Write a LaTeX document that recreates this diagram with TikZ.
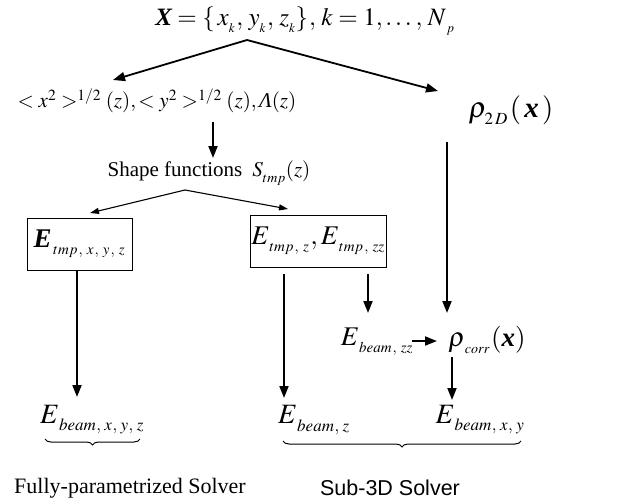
\documentclass[tikz,border=0pt]{standalone}
\usepackage{mathptmx}
\usepackage{fontspec}
\setmainfont{Liberation Serif}
\newfontfamily\sansf{Liberation Sans}
\usetikzlibrary{arrows.meta,decorations.pathreplacing}
\newcommand{\bX}{\text{\bfseries\itshape X}}
\newcommand{\bx}{\text{\bfseries\itshape x}}
\newcommand{\bE}{\text{\bfseries\itshape E}}
\newcommand{\itL}{\text{\itshape Λ}}
\newcommand{\subsep}{\kern1pt,\kern2.5pt}
\newcommand{\subsepb}{\kern0.5pt,\kern1.5pt}
% #1 size, #2 content
\newcommand{\lsub}[2]{_{\raisebox{-3pt}{\fontsize{#1}{#1}\selectfont$#2$}}}
\usepackage{amsmath}
\begin{document}
\begin{tikzpicture}[x=1pt,y=-1pt,
  txt/.style={inner sep=0pt,font=\fontsize{21}{25}\selectfont},
  fpt/.style={inner sep=0pt,font=\fontsize{22}{26}\selectfont},
  eq/.style={inner sep=0pt,font=\fontsize{25}{29}\selectfont},
  rho/.style={inner sep=0pt,font=\fontsize{27}{31}\selectfont},
  rhob/.style={inner sep=0pt,font=\fontsize{29}{33}\selectfont},
  big/.style={inner sep=0pt,font=\fontsize{28}{32}\selectfont},
  mid/.style={inner sep=0pt,font=\fontsize{27}{31}\selectfont},
  boxn/.style={draw,line width=1pt,inner sep=0pt,font=\fontsize{27}{31}\selectfont},
  arr/.style={line width=1.8pt,-{Triangle[length=12pt,width=9pt]}},
  tarr/.style={line width=1.1pt,-{Triangle[length=9pt,width=6pt]}},
  brc/.style={line width=1pt,decorate,decoration={brace,mirror,amplitude=6pt}}]
\useasboundingbox (0,0) rectangle (622,504);
\node[eq] (top) at (305,21) {$\bX=\{\,x\lsub{13}{k}\subsep y\lsub{13}{k}\subsep z\lsub{13}{k}\}\subsep k=1,\ldots\subsep N\lsub{13}{\;p}$};
\node[txt] (moms) at (157,101) {$<x^2>^{1/2}(z), <y^2>^{1/2}(z), \itL(z)$};
\node[rhob] (rho2) at (511,110) {$\rho\lsub{17}{2\,D}\kern2pt(\,\bx\,)$};
\node[txt] (shape) at (209,173) {Shape functions $\;S\lsub{14}{tmp}(z)$};
\node[boxn,minimum width=105pt,minimum height=52pt] (boxL) at (79.5,244) {$\bE\lsub{15}{\,tmp\subsep x\subsep y\subsep z}$};
\node[boxn,minimum width=136pt,minimum height=52pt] (boxR) at (318,241) {$E\lsub{15}{\,tmp\subsep z}\kern1pt, E\lsub{15}{\,tmp\subsep zz}$};
\node[mid] (Ezz) at (377,342) {$E\lsub{15}{\,beam\subsep zz}$};
\node[rho] (rhoc) at (487,340) {$\rho\lsub{14}{\,corr}\kern1pt(\bx)$};
\node[big] (Exyz) at (92,420) {$E\lsub{17}{\,beam\subsepb x\subsepb y\subsepb z}$};
\node[big] (Ez) at (314,420) {$E\lsub{17}{\,beam\subsepb z}$};
\node[big] (Exy) at (480,420) {$E\lsub{17}{\,beam\subsepb x\subsepb y}$};
\node[fpt] (fp) at (130,488) {Fully-parametrized Solver};
\node[txt,font=\sansf\fontsize{21.5}{25}\selectfont] (s3d) at (390,488) {Sub-3D Solver};
% coordinates
\coordinate (t0) at (247,40);
\coordinate (m0) at (113,80);
\coordinate (r0) at (438,91);
\coordinate (m1) at (213,122);
\coordinate (s0) at (213,158);
\coordinate (s1) at (185,190);
\coordinate (bl0) at (90,213);
\coordinate (br0) at (288,209);
\coordinate (r1) at (447,142);
\coordinate (rc0) at (447,313);
\coordinate (bl1) at (77,270);
\coordinate (ex0) at (77,397);
\coordinate (br1) at (284,274);
\coordinate (ez0) at (284,398);
\coordinate (br2) at (368,274);
\coordinate (ezz0) at (368,313);
\coordinate (ezz1) at (412,341);
\coordinate (rc1) at (437,341);
\coordinate (rc2) at (452,357);
\coordinate (exy0) at (452,400);
\coordinate (bA) at (45,439);
\coordinate (bB) at (140,439);
\coordinate (bC) at (283,441);
\coordinate (bD) at (521,441);
\draw[arr] (t0) -- (m0);
\draw[arr] (t0) -- (r0);
\draw[arr] (m1) -- (s0);
\draw[tarr] (s1) -- (bl0);
\draw[tarr] (s1) -- (br0);
\draw[arr] (r1) -- (rc0);
\draw[arr] (bl1) -- (ex0);
\draw[arr] (br1) -- (ez0);
\draw[arr] (br2) -- (ezz0);
\draw[arr] (ezz1) -- (rc1);
\draw[arr] (rc2) -- (exy0);
\draw[brc] (bA) -- (bB);
\draw[brc] (bC) -- (bD);
\end{tikzpicture}
\end{document}
